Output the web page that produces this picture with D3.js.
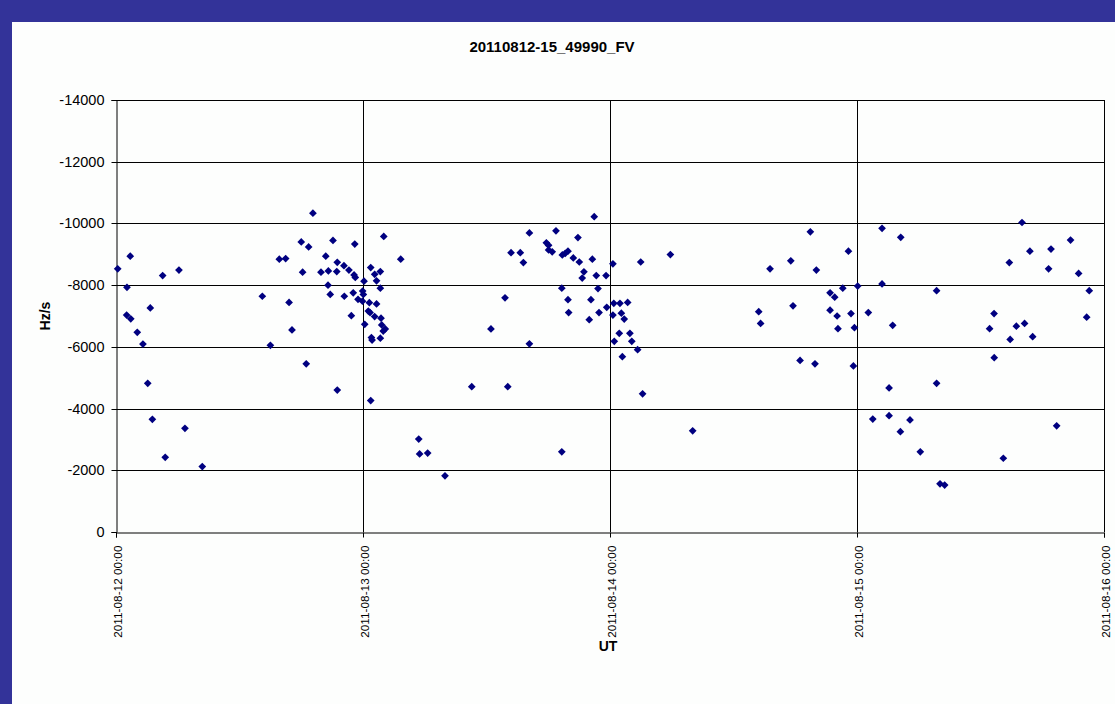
<!DOCTYPE html>
<html><head><meta charset="utf-8">
<script src="https://cdn.jsdelivr.net/npm/d3@7"></script>
<style>
html,body{margin:0;padding:0;background:#fdfefd;}
svg{display:block;}
</style></head>
<body>
<svg id="chart" width="1115" height="704"></svg>
<script>
const title = "20110812-15_49990_FV";
const xLabel = "UT";
const yLabel = "Hz/s";
const xTicks = ["2011-08-12 00:00","2011-08-13 00:00","2011-08-14 00:00","2011-08-15 00:00","2011-08-16 00:00"];
const yTicks = [0,-2000,-4000,-6000,-8000,-10000,-12000,-14000];

const times = [
"2011-08-12 00:10","2011-08-12 01:23","2011-08-12 01:04","2011-08-12 01:02","2011-08-12 01:26",
"2011-08-12 02:04","2011-08-12 02:37","2011-08-12 03:20","2011-08-12 03:05","2011-08-12 03:32",
"2011-08-12 04:32","2011-08-12 04:47","2011-08-12 06:07","2011-08-12 06:42","2011-08-12 08:23",
"2011-08-12 14:13","2011-08-12 15:00","2011-08-12 15:52","2011-08-12 16:29","2011-08-12 16:49",
"2011-08-12 17:06","2011-08-12 18:00","2011-08-12 18:08","2011-08-12 18:43","2011-08-12 18:29",
"2011-08-12 19:08","2011-08-12 19:55","2011-08-12 20:23","2011-08-12 20:38","2011-08-12 20:36",
"2011-08-12 20:49","2011-08-12 21:05","2011-08-12 21:30","2011-08-12 21:27","2011-08-12 21:30",
"2011-08-12 22:09","2011-08-12 22:38","2011-08-12 22:11","2011-08-12 22:52","2011-08-12 23:12",
"2011-08-12 23:08","2011-08-12 23:15","2011-08-12 23:03","2011-08-12 23:31","2011-08-12 23:58",
"2011-08-13 00:02","2011-08-12 23:57","2011-08-13 00:06","2011-08-13 00:10","2011-08-13 00:37",
"2011-08-13 00:31","2011-08-13 00:41","2011-08-13 00:45","2011-08-13 00:49","2011-08-13 00:53",
"2011-08-13 00:45","2011-08-13 01:08","2011-08-13 01:19","2011-08-13 01:19","2011-08-13 01:08",
"2011-08-13 01:41","2011-08-13 01:41","2011-08-13 01:45","2011-08-13 01:49","2011-08-13 02:10",
"2011-08-13 01:58","2011-08-13 01:41","2011-08-13 02:01","2011-08-13 03:40","2011-08-13 05:25",
"2011-08-13 05:30","2011-08-13 06:17","2011-08-13 07:58","2011-08-13 10:34","2011-08-13 12:26",
"2011-08-13 13:48","2011-08-13 14:04","2011-08-13 14:23","2011-08-13 15:17","2011-08-13 15:35",
"2011-08-13 16:10","2011-08-13 16:10","2011-08-13 17:49","2011-08-13 18:02","2011-08-13 18:02",
"2011-08-13 18:23","2011-08-13 18:45","2011-08-13 19:19","2011-08-13 19:22","2011-08-13 19:39",
"2011-08-13 19:55","2011-08-13 19:19","2011-08-13 19:55","2011-08-13 19:59","2011-08-13 20:26",
"2011-08-13 20:53","2011-08-13 21:01","2011-08-13 21:28","2011-08-13 21:18","2011-08-13 21:59",
"2011-08-13 22:09","2011-08-13 22:17","2011-08-13 22:28","2011-08-13 22:40","2011-08-13 22:50",
"2011-08-13 22:56","2011-08-13 23:37","2011-08-13 23:41","2011-08-14 00:17","2011-08-14 00:22",
"2011-08-14 00:58","2011-08-14 01:43","2011-08-14 00:17","2011-08-14 01:06","2011-08-14 01:23",
"2011-08-14 00:54","2011-08-14 01:56","2011-08-14 00:25","2011-08-14 02:07","2011-08-14 02:41",
"2011-08-14 01:12","2011-08-14 02:59","2011-08-14 03:10","2011-08-14 05:52","2011-08-14 08:02",
"2011-08-14 14:27","2011-08-14 14:38","2011-08-14 15:33","2011-08-14 17:34","2011-08-14 17:47",
"2011-08-14 18:28","2011-08-14 19:28","2011-08-14 19:55","2011-08-14 20:03","2011-08-14 21:23",
"2011-08-14 21:50","2011-08-14 21:23","2011-08-14 22:04","2011-08-14 22:09","2011-08-14 22:37",
"2011-08-14 23:10","2011-08-14 23:25","2011-08-14 23:39","2011-08-14 23:45","2011-08-15 00:04",
"2011-08-15 01:06","2011-08-15 01:32","2011-08-15 02:26","2011-08-15 02:26","2011-08-15 03:07",
"2011-08-15 03:07","2011-08-15 03:28","2011-08-15 04:15","2011-08-15 04:13","2011-08-15 05:09",
"2011-08-15 06:09","2011-08-15 07:44","2011-08-15 07:44","2011-08-15 08:04","2011-08-15 08:31",
"2011-08-15 12:53","2011-08-15 13:19","2011-08-15 13:20","2011-08-15 14:13","2011-08-15 14:48",
"2011-08-15 14:53","2011-08-15 15:29","2011-08-15 16:02","2011-08-15 16:17","2011-08-15 16:48",
"2011-08-15 17:04","2011-08-15 18:37","2011-08-15 18:51","2011-08-15 19:24","2011-08-15 20:45",
"2011-08-15 21:32","2011-08-15 22:19","2011-08-15 22:34"
];
const values = [
-8530,-8940,-7930,-7030,-6910,
-6470,-6090,-7260,-4820,-3650,
-8310,-2420,-8490,-3360,-2120,
-7640,-6050,-8840,-8860,-7440,
-6550,-9400,-8420,-9240,-5450,
-10330,-8420,-8940,-8460,-8000,
-7700,-9450,-8740,-8440,-4600,
-8630,-8490,-7640,-7010,-9330,
-8330,-8250,-7750,-7540,-7810,
-7700,-7480,-8130,-6730,-7430,
-7160,-7110,-8570,-6300,-6220,
-4260,-8350,-8140,-7390,-6980,
-8440,-7900,-6930,-6710,-6580,
-6510,-6280,-9580,-8840,-3010,
-2530,-2560,-1820,-4710,-6580,
-7590,-4710,-9050,-9050,-8730,
-9690,-6100,-9370,-9290,-9140,
-9080,-9760,-7900,-8980,-9030,
-9100,-2600,-7530,-7110,-8880,
-9540,-8750,-8430,-8230,-6880,
-7530,-8840,-10220,-8310,-7890,
-7110,-8310,-7280,-8690,-7410,
-7410,-7440,-7030,-7090,-6900,
-6440,-6440,-6180,-6180,-5910,
-5680,-8750,-4480,-8990,-3280,
-7140,-6760,-8530,-8790,-7330,
-5560,-9730,-5450,-8490,-7750,
-7610,-7190,-7000,-6590,-7900,
-9100,-7080,-5380,-6620,-7970,
-7110,-3660,-9840,-8040,-4670,
-3770,-6700,-9550,-3250,-3630,
-2600,-7820,-4820,-1560,-1520,
-6590,-7080,-5650,-2390,-8730,
-6240,-6670,-10030,-6760,-9100,
-6330,-8530,-9170,-3440,-9460,
-8380,-6960,-7820
];

const parse = d3.utcParse("%Y-%m-%d %H:%M");
const data = times.map((t,i)=>({t:parse(t), v:values[i]}));

const svg = d3.select("#chart");
const W = 1115, H = 704;
const mLeft = 116, mRight = 1104, mTop = 100, mBottom = 532;

svg.append("rect").attr("x",0).attr("y",0).attr("width",W).attr("height",H).attr("fill","#fdfefd");
// frame
svg.append("rect").attr("x",0).attr("y",0).attr("width",W).attr("height",22).attr("fill","#333399");
svg.append("rect").attr("x",0).attr("y",0).attr("width",12).attr("height",H).attr("fill","#333399");

const x = d3.scaleUtc().domain([parse(xTicks[0]), parse(xTicks[xTicks.length-1])]).range([mLeft,mRight]);
const y = d3.scaleLinear().domain([0,-14000]).range([mBottom,mTop]);

const font = "'Liberation Sans', Arial, sans-serif";

// horizontal grid
svg.append("g").selectAll("line").data(yTicks.filter(d=>d!==0)).join("line")
  .attr("x1",mLeft).attr("x2",mRight)
  .attr("y1",d=>Math.round(y(d))+0.5).attr("y2",d=>Math.round(y(d))+0.5)
  .attr("stroke","#000").attr("stroke-width",1);
// vertical grid
svg.append("g").selectAll("line").data(xTicks.slice(1)).join("line")
  .attr("x1",d=>Math.round(x(parse(d)))+0.5).attr("x2",d=>Math.round(x(parse(d)))+0.5)
  .attr("y1",mTop).attr("y2",mBottom)
  .attr("stroke","#000").attr("stroke-width",1);

// y axis
const yAxis = svg.append("g").attr("transform",`translate(${mLeft+0.5},0)`)
  .call(d3.axisLeft(y).tickValues(yTicks).tickSize(5).tickPadding(7).tickFormat(d => String(d)));
yAxis.select(".domain").attr("stroke","#000");
yAxis.selectAll("line").attr("stroke","#000");
yAxis.selectAll("text").attr("font-family",font).attr("font-size","14.5px").attr("fill","#000");
yAxis.selectAll(".tick").attr("transform",d=>`translate(0,${Math.round(y(d))+0.5})`);

// x axis
const xAxis = svg.append("g").attr("transform",`translate(0,${mBottom+0.5})`)
  .call(d3.axisBottom(x).tickValues(xTicks.map(parse)).tickSize(5).tickFormat(d3.utcFormat("%Y-%m-%d %H:%M")));
xAxis.select(".domain").attr("stroke","#000");
xAxis.selectAll("line").attr("stroke","#000");
xAxis.selectAll(".tick").attr("transform",d=>`translate(${Math.round(x(d))+0.5},0)`);
xAxis.selectAll("text")
  .attr("font-family",font).attr("font-size","11.8px").attr("fill","#000")
  .attr("text-anchor","end").attr("dy",null).attr("y",0).attr("x",0)
  .attr("transform","translate(5,13) rotate(-90)");

// points
svg.append("g").selectAll("path").data(data).join("path")
  .attr("d", d3.symbol().type(d3.symbolSquare).size(30))
  .attr("transform", d=>`translate(${x(d.t)},${y(d.v)}) rotate(45)`)
  .attr("fill","#000080");

// title
svg.append("text").attr("x",552).attr("y",52).attr("text-anchor","middle")
  .attr("font-family",font).attr("font-size","15px").attr("font-weight","bold").text(title);
svg.append("text").attr("x",608).attr("y",651).attr("text-anchor","middle")
  .attr("font-family",font).attr("font-size","14px").attr("font-weight","bold").text(xLabel);
svg.append("text").attr("transform","translate(50,316) rotate(-90)").attr("text-anchor","middle")
  .attr("font-family",font).attr("font-size","14px").attr("font-weight","bold").text(yLabel);
</script>
</body></html>
